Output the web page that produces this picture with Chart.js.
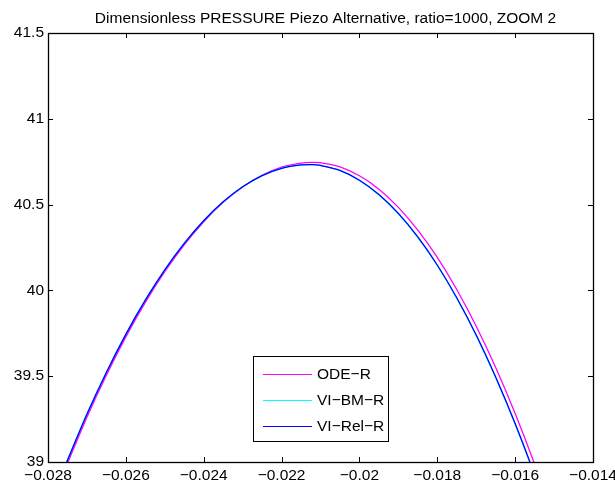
<!DOCTYPE html>
<html>
<head>
<meta charset="utf-8">
<title>Dimensionless PRESSURE Piezo Alternative</title>
<script src="https://cdn.jsdelivr.net/npm/chart.js@4.4.1/dist/chart.umd.min.js"></script>
<style>
  html, body { margin: 0; padding: 0; background: #fff; }
  canvas { display: block; }
</style>
</head>
<body>
<canvas id="chart" width="615" height="492"></canvas>
<script>
const titleText = 'Dimensionless PRESSURE Piezo Alternative, ratio=1000, ZOOM 2';

// x positions shared by all three curves
const xValues = [-0.0276, -0.0270, -0.0265, -0.0260, -0.0255, -0.0250, -0.0245, -0.0240, -0.0235,
  -0.0230, -0.0225, -0.0220, -0.0215, -0.0212, -0.0210, -0.0205, -0.0200, -0.0195, -0.0190, -0.0185,
  -0.0180, -0.0175, -0.0170, -0.0165, -0.0160, -0.0155, -0.0150];

const odeR = [38.938, 39.261, 39.506, 39.729, 39.930, 40.109, 40.266, 40.400, 40.513, 40.603,
  40.671, 40.718, 40.742, 40.746, 40.744, 40.720, 40.668, 40.590, 40.484, 40.351, 40.192, 40.005,
  39.791, 39.551, 39.283, 38.988, 38.666];

const viBmR = [38.959, 39.281, 39.525, 39.746, 39.945, 40.121, 40.275, 40.407, 40.516, 40.604,
  40.669, 40.711, 40.731, 40.733, 40.728, 40.698, 40.641, 40.557, 40.447, 40.309, 40.145, 39.954,
  39.736, 39.491, 39.220, 38.922, 38.597];

const viRelR = [38.955, 39.278, 39.522, 39.744, 39.943, 40.120, 40.274, 40.406, 40.516, 40.604,
  40.669, 40.711, 40.731, 40.733, 40.728, 40.699, 40.642, 40.559, 40.449, 40.312, 40.148, 39.957,
  39.740, 39.495, 39.224, 38.926, 38.601];

const seriesNames = ['ODE\u2212R', 'VI\u2212BM\u2212R', 'VI\u2212Rel\u2212R'];
const seriesColors = ['#ff00ff', '#00ffff', '#0000ff'];

const xTicks = [-0.028, -0.026, -0.024, -0.022, -0.020, -0.018, -0.016, -0.014];
const xTickLabels = ['\u22120.028', '\u22120.026', '\u22120.024', '\u22120.022', '\u22120.02', '\u22120.018', '\u22120.016', '\u22120.014'];
const yTicks = [39, 39.5, 40, 40.5, 41, 41.5];
const yTickLabels = ['39', '39.5', '40', '40.5', '41', '41.5'];

const fontFamily = '"Liberation Sans", Arial, Helvetica, sans-serif';

const toPoints = ys => ys.map((y, i) => ({ x: xValues[i], y: y }));

// axes box, inward ticks on all four sides and the title
const matlabFrame = {
  id: 'matlabFrame',
  afterDatasetsDraw(chart) {
    const { ctx, chartArea: a, scales } = chart;
    const tick = 5;
    ctx.save();
    ctx.strokeStyle = '#000';
    ctx.lineWidth = 1;
    ctx.beginPath();
    scales.x.ticks.forEach(t => {
      const px = Math.round(scales.x.getPixelForValue(t.value)) + 0.5;
      ctx.moveTo(px, a.bottom); ctx.lineTo(px, a.bottom - tick);
      ctx.moveTo(px, a.top); ctx.lineTo(px, a.top + tick);
    });
    scales.y.ticks.forEach(t => {
      const py = Math.round(scales.y.getPixelForValue(t.value)) + 0.5;
      ctx.moveTo(a.left, py); ctx.lineTo(a.left + tick, py);
      ctx.moveTo(a.right, py); ctx.lineTo(a.right - tick, py);
    });
    ctx.stroke();
    ctx.lineWidth = 1.3;
    ctx.strokeRect(Math.round(a.left) + 0.5, Math.round(a.top) + 0.5,
      Math.round(a.right - a.left), Math.round(a.bottom - a.top));

    ctx.fillStyle = '#000';
    ctx.font = '15.5px ' + fontFamily;
    ctx.textAlign = 'center';
    ctx.textBaseline = 'alphabetic';
    ctx.fillText(titleText, 325.5, 22.5);
    ctx.restore();
  }
};

// legend box inside the plot, like the MATLAB one
const boxLegend = {
  id: 'boxLegend',
  afterDraw(chart) {
    const { ctx } = chart;
    const left = 253.5, top = 356.5, w = 135, h = 85;
    const rows = [374, 400, 426];
    ctx.save();
    ctx.fillStyle = '#fff';
    ctx.fillRect(left, top, w, h);
    ctx.strokeStyle = '#000';
    ctx.lineWidth = 1;
    ctx.strokeRect(left, top, w, h);
    ctx.font = '15.5px ' + fontFamily;
    ctx.textAlign = 'left';
    ctx.textBaseline = 'middle';
    chart.data.datasets.forEach((ds, i) => {
      const y = rows[i];
      ctx.strokeStyle = ds.borderColor;
      ctx.lineWidth = 1;
      ctx.beginPath();
      ctx.moveTo(263, y + 0.5);
      ctx.lineTo(312, y + 0.5);
      ctx.stroke();
      ctx.fillStyle = '#000';
      ctx.fillText(ds.label, 317, y + 1);
    });
    ctx.restore();
  }
};

const ctx = document.getElementById('chart').getContext('2d');

new Chart(ctx, {
  type: 'line',
  data: {
    // order: magenta drawn first, blue last (on top), as in the reference
    datasets: [odeR, viBmR, viRelR].map((ys, i) => ({
      label: seriesNames[i],
      data: toPoints(ys),
      borderColor: seriesColors[i],
      backgroundColor: seriesColors[i],
      borderWidth: 1.3,
      pointRadius: 0,
      fill: false,
      tension: 0.3,
      order: 2 - i
    }))
  },
  options: {
    responsive: false,
    animation: false,
    events: [],
    layout: { padding: { left: 0, right: 22, top: 33, bottom: 0 } },
    plugins: {
      legend: { display: false },
      tooltip: { enabled: false },
      title: { display: false }
    },
    scales: {
      x: {
        type: 'linear',
        min: -0.028,
        max: -0.014,
        afterBuildTicks: s => { s.ticks = xTicks.map(v => ({ value: v })); },
        afterFit: s => { s.height = 30; s.paddingLeft = 0; s.paddingRight = 0; },
        ticks: {
          callback: (v, i) => xTickLabels[i],
          color: '#000',
          font: { family: fontFamily, size: 15.5 },
          padding: 4,
          maxRotation: 0,
          autoSkip: false
        },
        grid: { display: false, drawTicks: false },
        border: { display: false }
      },
      y: {
        type: 'linear',
        min: 39,
        max: 41.5,
        afterBuildTicks: s => { s.ticks = yTicks.map(v => ({ value: v })); },
        afterFit: s => { s.width = 48; s.paddingTop = 0; s.paddingBottom = 0; },
        ticks: {
          callback: (v, i) => yTickLabels[i],
          color: '#000',
          font: { family: fontFamily, size: 15.5 },
          padding: 4,
          autoSkip: false
        },
        grid: { display: false, drawTicks: false },
        border: { display: false }
      }
    }
  },
  plugins: [matlabFrame, boxLegend]
});
</script>
</body>
</html>
